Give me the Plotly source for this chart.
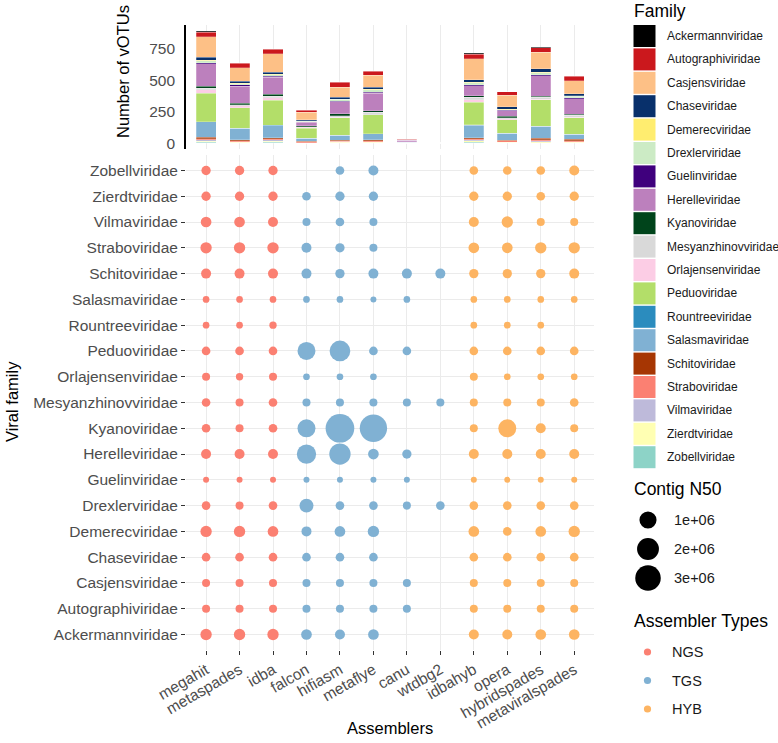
import math
import plotly.graph_objects as go

W, H = 778, 743
FONT = "Liberation Sans, Arial, Helvetica, sans-serif"

assemblers = ["megahit", "metaspades", "idba", "falcon", "hifiasm", "metaflye",
              "canu", "wtdbg2", "idbahyb", "opera", "hybridspades", "metaviralspades"]
assembler_types = ["NGS", "NGS", "NGS", "TGS", "TGS", "TGS", "TGS", "TGS",
                   "HYB", "HYB", "HYB", "HYB"]
type_names = ["NGS", "TGS", "HYB"]
type_colors = ["#FB8072", "#80B1D3", "#FDB462"]

families = ["Ackermannviridae", "Autographiviridae", "Casjensviridae", "Chaseviridae",
            "Demerecviridae", "Drexlerviridae", "Guelinviridae", "Herelleviridae",
            "Kyanoviridae", "Mesyanzhinovviridae", "Orlajensenviridae", "Peduoviridae",
            "Rountreeviridae", "Salasmaviridae", "Schitoviridae", "Straboviridae",
            "Vilmaviridae", "Zierdtviridae", "Zobellviridae"]
family_colors = ["#000000", "#CB181D", "#FDC086", "#08306B", "#FFED6F", "#CCEBC5",
                 "#3F007D", "#BC80BD", "#00441B", "#D9D9D9", "#FCCDE5", "#B3DE69",
                 "#2B8CBE", "#80B1D3", "#A63603", "#FB8072", "#BEBADA", "#FFFFB3",
                 "#8DD3C7"]

# Number of vOTUs per family (family order above), one list per assembler
votu_megahit = [8, 37, 162, 24, 5, 18, 8, 178, 13, 13, 29, 225, 3, 122, 10, 10, 10, 10, 8]
votu_metaspades = [4, 35, 110, 14, 4, 10, 10, 136, 10, 8, 18, 160, 3, 90, 10, 6, 5, 5, 3]
votu_idba = [3, 34, 148, 16, 4, 12, 10, 135, 16, 10, 21, 198, 3, 98, 5, 10, 10, 10, 8]
votu_falcon = [2, 17, 62, 8, 2, 4, 4, 30, 5, 6, 6, 80, 0, 25, 4, 8, 2, 2, 0]
votu_hifiasm = [3, 42, 80, 13, 3, 16, 4, 95, 13, 13, 5, 140, 0, 40, 8, 4, 4, 4, 3]
votu_metaflye = [3, 34, 95, 16, 3, 20, 8, 138, 13, 18, 3, 148, 0, 48, 10, 8, 4, 4, 4]
votu_canu = [0, 2, 3, 0, 0, 1, 1, 14, 0, 2, 0, 2, 0, 5, 2, 0, 0, 0, 0]
votu_wtdbg2 = [0, 0, 0, 0, 0, 1, 0, 0, 0, 1, 0, 0, 0, 0, 3, 0, 0, 0, 0]
votu_idbahyb = [8, 37, 167, 21, 5, 13, 8, 80, 13, 18, 21, 180, 3, 98, 8, 10, 8, 10, 10]
votu_opera = [2, 29, 90, 21, 3, 5, 3, 45, 10, 8, 8, 106, 3, 53, 4, 12, 3, 4, 3]
votu_hybridspades = [5, 34, 133, 26, 5, 16, 8, 162, 8, 18, 3, 209, 3, 95, 10, 8, 8, 8, 5]
votu_metaviralspades = [5, 34, 103, 16, 4, 12, 10, 122, 8, 16, 3, 133, 0, 40, 10, 8, 5, 5, 3]
votus = [votu_megahit, votu_metaspades, votu_idba, votu_falcon, votu_hifiasm, votu_metaflye,
         votu_canu, votu_wtdbg2, votu_idbahyb, votu_opera, votu_hybridspades,
         votu_metaviralspades]

# Contig N50 per family (family order above), None = absent
n50_megahit = [250000, 44000, 44000, 71000, 250000, 71000, 1200, 146000, 71000, 71000,
               44000, 71000, 8700, 8700, 146000, 250000, 195000, 105000, 105000]
n50_metaspades = [250000, 44000, 44000, 71000, 250000, 44000, 1200, 146000, 44000, 44000,
                  23000, 71000, 8700, 8700, 146000, 250000, 195000, 105000, 105000]
n50_idba = [250000, 44000, 44000, 71000, 195000, 71000, 1200, 146000, 71000, 71000,
            44000, 71000, 23000, 8700, 146000, 250000, 146000, 105000, 105000]
n50_falcon = [195000, 44000, 44000, 71000, 146000, 530000, 1200, 1430000, 1160000, 44000,
              8700, 1160000, None, 8700, 146000, 146000, 44000, 71000, None]
n50_hifiasm = [146000, 44000, 44000, 71000, 195000, 71000, 1200, 1870000, 4020000, 44000,
               8700, 1720000, None, 8700, 105000, 105000, 71000, 105000, 71000]
n50_metaflye = [195000, 44000, 44000, 71000, 250000, 71000, 1200, 195000, 3570000, 44000,
                8700, 71000, None, 1200, 146000, 44000, 44000, 105000, 146000]
n50_canu = [None, 44000, 44000, None, None, 44000, 1200, 105000, None, 44000,
            None, 71000, None, 8700, 146000, None, None, None, None]
n50_wtdbg2 = [None, None, None, None, None, 71000, None, None, None, 44000,
              None, None, None, None, 146000, None, None, None, None]
n50_idbahyb = [146000, 44000, 44000, 71000, 195000, 71000, 1200, 146000, 44000, 44000,
               44000, 71000, 8700, 8700, 105000, 195000, 146000, 105000, 71000]
n50_opera = [146000, 44000, 44000, 71000, 71000, 71000, 1200, 146000, 1160000, 44000,
             8700, 71000, 8700, 8700, 105000, 195000, 250000, 105000, 71000]
n50_hybridspades = [195000, 44000, 44000, 71000, 195000, 71000, 1200, 146000, 146000, 44000,
                    8700, 71000, 8700, 8700, 105000, 250000, 44000, 71000, 71000]
n50_metaviralspades = [195000, 44000, 44000, 71000, 250000, 71000, 1200, 146000, 44000, 71000,
                       8700, 71000, None, 8700, 146000, 250000, 44000, 105000, 146000]
n50s = [n50_megahit, n50_metaspades, n50_idba, n50_falcon, n50_hifiasm, n50_metaflye,
        n50_canu, n50_wtdbg2, n50_idbahyb, n50_opera, n50_hybridspades, n50_metaviralspades]

n50_legend_values = [1e6, 2e6, 3e6]
n50_legend_labels = ["1e+06", "2e+06", "3e+06"]
bar_ticks = [0, 250, 500, 750]


def size_of(v):
    # area-style size scale: diameter grows with sqrt(N50)
    return 5.6 + 0.0115 * math.sqrt(v)


def px(x):
    return x / W


def py(y):
    return 1 - y / H


fig = go.Figure()

# ---- stacked bars (top panel) ----
for j in reversed(range(len(families))):
    fig.add_trace(go.Bar(
        x=assemblers, y=[votus[a][j] for a in range(len(assemblers))],
        name=families[j], marker=dict(color=family_colors[j],
                                      line=dict(color="rgba(255,255,255,0.6)", width=0.4)),
        width=0.6, xaxis="x2", yaxis="y2", showlegend=False, hoverinfo="skip"))

# ---- bubble panel ----
for t, tname in enumerate(type_names):
    xs, ys, ss = [], [], []
    for a, asm in enumerate(assemblers):
        if assembler_types[a] != tname:
            continue
        for j, fam in enumerate(families):
            v = n50s[a][j]
            if v is None:
                continue
            xs.append(asm)
            ys.append(fam)
            ss.append(size_of(v))
    fig.add_trace(go.Scatter(
        x=xs, y=ys, mode="markers", name=tname,
        marker=dict(color=type_colors[t], size=ss, sizemode="diameter", line=dict(width=0),
                    opacity=1),
        xaxis="x", yaxis="y", showlegend=False))

tickfont = dict(family=FONT, size=15.5, color="#4D4D4D")
grid = "#EBEBEB"

x_dom = [px(186), px(594.3)]
fig.update_layout(
    width=W, height=H, margin=dict(l=0, r=0, t=0, b=0),
    paper_bgcolor="white", plot_bgcolor="white", showlegend=False,
    barmode="stack",
    font=dict(family=FONT),
    xaxis=dict(domain=x_dom, type="category", categoryorder="array",
               categoryarray=assemblers, range=[-0.6, 11.6],
               showgrid=True, gridcolor=grid, gridwidth=1.2, zeroline=False,
               ticks="outside", ticklen=4, tickcolor="#333333", tickwidth=1.2,
               tickangle=-30, tickfont=tickfont, anchor="y", automargin=False,
               showline=False),
    yaxis=dict(domain=[py(650), py(155)], type="category", categoryorder="array",
               categoryarray=families, range=[-0.6, 18.6],
               showgrid=True, gridcolor=grid, gridwidth=1.2, zeroline=False,
               ticks="outside", ticklen=4, tickcolor="#333333", tickwidth=1.2,
               tickfont=tickfont, anchor="x", automargin=False, showline=False),
    xaxis2=dict(domain=x_dom, type="category", categoryorder="array",
                categoryarray=assemblers, range=[-0.6, 11.6],
                showgrid=True, gridcolor=grid, gridwidth=1.2, zeroline=False,
                showticklabels=False, ticks="", anchor="y2", automargin=False),
    yaxis2=dict(domain=[py(149), py(25)], range=[-45, 941], tickvals=bar_ticks,
                showgrid=False, zeroline=False, showline=True, linecolor="black",
                linewidth=1.6, ticks="", tickfont=tickfont, anchor="x2",
                automargin=False, ticklabelstandoff=6),
)

shapes = []
annotations = []


def label(text, x, y, size, color="black", xanchor="center", angle=0):
    annotations.append(dict(text=text, x=px(x), y=py(y), xref="paper", yref="paper",
                            xanchor=xanchor, yanchor="middle", showarrow=False,
                            textangle=angle, font=dict(family=FONT, size=size, color=color)))


# axis titles
label("Viral family", 12, 402, 16.5, angle=-90)
label("Number of vOTUs", 123, 72, 16.5, angle=-90)
label("Assemblers", 390, 728, 16.5)

# Family legend
label("Family", 632, 11, 17.5, xanchor="left")
for j, fam in enumerate(families):
    cy = 36 + j * 23.4
    shapes.append(dict(type="rect", xref="paper", yref="paper",
                       x0=px(633.5), x1=px(655.5), y0=py(cy + 11), y1=py(cy - 11),
                       fillcolor=family_colors[j], line=dict(width=0)))
    label(fam, 665, cy, 12, color="#1A1A1A", xanchor="left")

# Contig N50 legend
label("Contig N50", 632, 489, 17.5, xanchor="left")
for k, v in enumerate(n50_legend_values):
    cy = 520 + k * 29
    r = size_of(v) / 2
    shapes.append(dict(type="circle", xref="paper", yref="paper",
                       xsizemode="pixel", ysizemode="pixel",
                       xanchor=px(648), yanchor=py(cy), x0=-r, x1=r, y0=-r, y1=r,
                       fillcolor="black", line=dict(width=0)))
    label(n50_legend_labels[k], 672, cy, 14.5, color="#1A1A1A", xanchor="left")

# Assembler types legend
label("Assembler Types", 632, 621, 17.5, xanchor="left")
for k, tname in enumerate(type_names):
    cy = 652 + k * 28.5
    r = 3.6
    shapes.append(dict(type="circle", xref="paper", yref="paper",
                       xsizemode="pixel", ysizemode="pixel",
                       xanchor=px(647.5), yanchor=py(cy), x0=-r, x1=r, y0=-r, y1=r,
                       fillcolor=type_colors[k], line=dict(width=0)))
    label(tname, 670, cy, 14.5, color="#1A1A1A", xanchor="left")

fig.update_layout(shapes=shapes, annotations=annotations)
fig.write_html("out.html",
               config={"displayModeBar": False},
               post_script="document.body.style.margin='0px';"
                           "document.body.style.overflow='hidden';")
